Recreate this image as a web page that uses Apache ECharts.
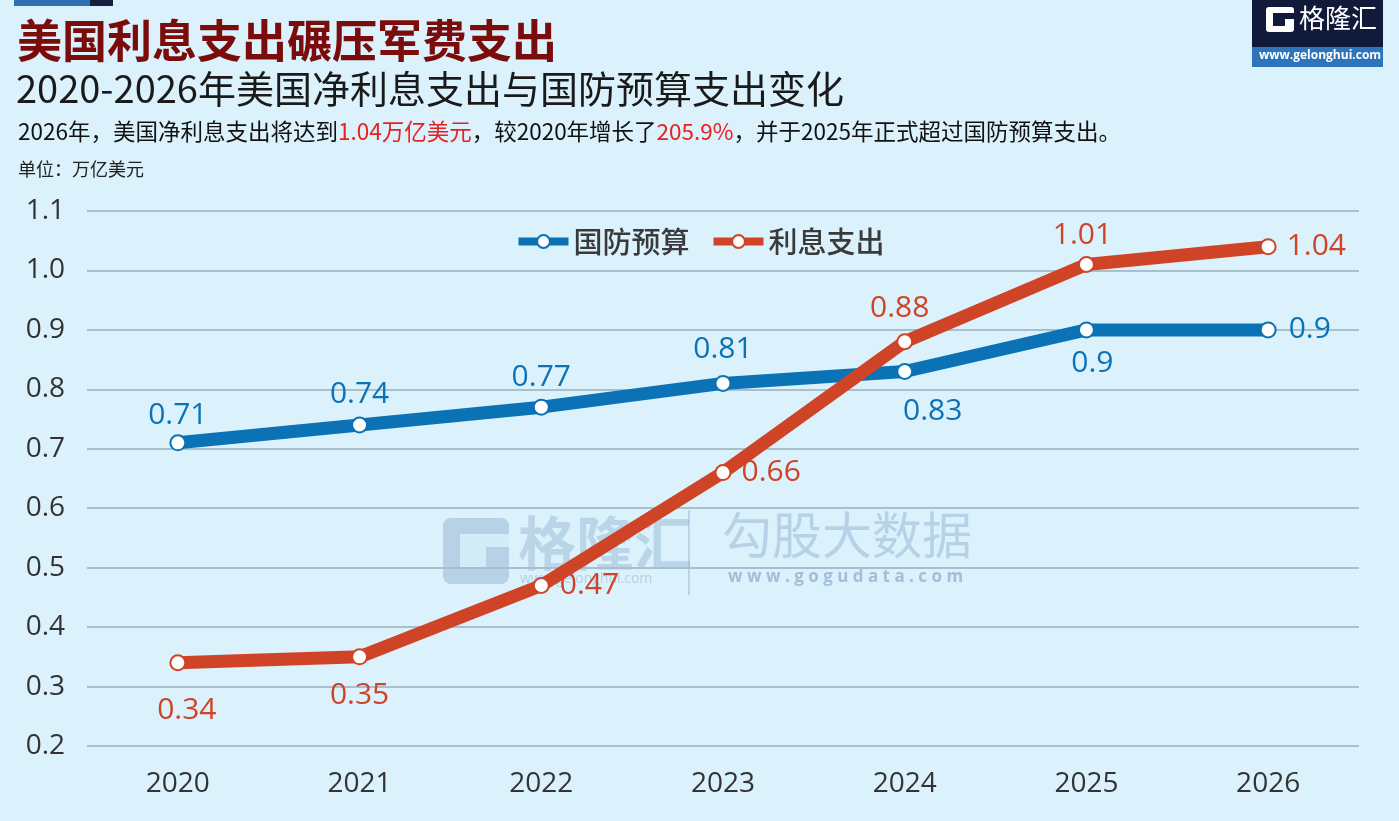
<!DOCTYPE html>
<html>
<head>
<meta charset="utf-8">
<script src="https://cdn.jsdelivr.net/npm/echarts@6/dist/echarts.min.js"></script>
<style>
html, body { margin: 0; padding: 0; background: #dbf1fc; }
#main { width: 1399px; height: 821px; }
</style>
</head>
<body>
<div id="main"></div>
<script>
var years = ['2020', '2021', '2022', '2023', '2024', '2025', '2026'];
var defenseBudget = [0.71, 0.74, 0.77, 0.81, 0.83, 0.9, 0.9];
var interestCost = [0.34, 0.35, 0.47, 0.66, 0.88, 1.01, 1.04];
// label placement per point
var defensePos = ['top', 'top', 'top', 'top', 'bottom', 'bottom', 'right'];
var interestPos = ['bottom', 'bottom', 'right', 'right', 'top', 'top', 'right'];

var blue = '#0b72b5';
var red = '#cf4426';
var cjk = '"Noto Sans CJK SC", "Noto Sans", sans-serif';
var num = '"Open Sans", "Noto Sans", sans-serif';

function withLabels(values, positions, color, offsets) {
	return values.map(function (v, i) {
		return {
			value: v,
			label: {
				show: true,
				position: positions[i],
				distance: 10,
				offset: offsets[i] || [0, 0],
				color: color,
				fontSize: 30,
				fontWeight: 500,
				fontFamily: num
			}
		};
	});
}

var chart = echarts.init(document.getElementById('main'));
chart.setOption({
	backgroundColor: '#dbf1fc',
	animation: false,
	grid: { left: 87, right: 40, top: 211, bottom: 75, containLabel: false },
	legend: {
		top: 222,
		left: 'center',
		itemWidth: 50,
		itemHeight: 16,
		itemGap: 20,
		lineStyle: { width: 8 },
		textStyle: { fontSize: 29, color: '#3a3a3a', fontWeight: 500, fontFamily: cjk },
		data: ['国防预算', '利息支出']
	},
	xAxis: {
		type: 'category',
		data: years,
		boundaryGap: true,
		axisLine: { show: false },
		axisTick: { show: false },
		axisLabel: { fontSize: 28, color: '#333', fontWeight: 500, margin: 24, fontFamily: num }
	},
	yAxis: {
		type: 'value',
		min: 0.2,
		max: 1.1,
		interval: 0.1,
		axisLabel: {
			fontSize: 28, color: '#333', fontWeight: 500, margin: 22, fontFamily: num,
			formatter: function (v) { return v.toFixed(1); }
		},
		splitLine: { lineStyle: { color: '#a9c0cc', width: 2 } }
	},
	series: [{
		name: '国防预算',
		type: 'line',
		data: withLabels(defenseBudget, defensePos, blue, [[0, 6], [0, 3], [0, 4], null, [28, 6], [6, 0], [2, 0]]),
		lineStyle: { color: blue, width: 13 },
		itemStyle: { color: '#fff', borderColor: blue, borderWidth: 2 },
		symbol: 'circle',
		symbolSize: 15,
		z: 2
	}, {
		name: '利息支出',
		type: 'line',
		data: withLabels(interestCost, interestPos, red, [[9, 14], [0, 5], null, null, [-5, 0], [-4, 4], null]),
		lineStyle: { color: red, width: 13 },
		itemStyle: { color: '#fff', borderColor: red, borderWidth: 2 },
		symbol: 'circle',
		symbolSize: 15,
		z: 3
	}],
	graphic: [
		// top strip
		{ type: 'rect', shape: { x: 14, y: 0, width: 76, height: 6 }, style: { fill: '#2e6fb5' } },
		{ type: 'rect', shape: { x: 90, y: 0, width: 23, height: 6 }, style: { fill: '#14213f' } },
		// titles
		{ type: 'text', left: 17, top: 18, style: { text: '美国利息支出碾压军费支出', font: 'bold 45px ' + cjk, fill: '#7a0c0c' } },
		{ type: 'text', left: 16, top: 70, style: { text: '2020-2026年美国净利息支出与国防预算支出变化', font: '38px ' + cjk, fill: '#1a1a1a' } },
		{ type: 'text', left: 18, top: 120, style: {
			text: '{a|2026年，美国净利息支出将达到}{r|1.04万亿美元}{a|，较2020年增长了}{r|205.9%}{a|，并于2025年正式超过国防预算支出。}',
			rich: {
				a: { fontSize: 22.5, fontFamily: cjk, fill: '#111' },
				r: { fontSize: 22.5, fontFamily: cjk, fill: '#e8201e' }
			}
		} },
		{ type: 'text', left: 18, top: 160, style: { text: '单位：万亿美元', font: '18px ' + cjk, fill: '#222' } },
		// logo top right
		{ type: 'rect', shape: { x: 1252, y: 0, width: 131, height: 47 }, style: { fill: '#121a3a' } },
		{ type: 'rect', shape: { x: 1252, y: 47, width: 131, height: 20 }, style: { fill: '#2e74bb' } },
		{ type: 'rect', shape: { x: 1266, y: 7, width: 28, height: 25, r: 3 }, style: { fill: '#fff' } },
		{ type: 'rect', shape: { x: 1273, y: 13, width: 21, height: 6 }, style: { fill: '#121a3a' } },
		{ type: 'rect', shape: { x: 1273, y: 19, width: 12, height: 7 }, style: { fill: '#121a3a' } },
		{ type: 'text', left: 1299, top: 5, style: { text: '格隆汇', font: '26px ' + cjk, fill: '#fff' } },
		{ type: 'text', left: 1259, top: 50, style: { text: 'www.gelonghui.com', font: 'bold 12px ' + num, fill: '#fff' } },
		// watermark
		{ type: 'group', z: 100, children: [
			{ type: 'rect', shape: { x: 443, y: 518, width: 66, height: 66, r: 8 }, style: { fill: 'rgba(110,150,185,0.33)' } },
			{ type: 'rect', shape: { x: 460, y: 534, width: 49, height: 13 }, style: { fill: 'rgba(219,241,252,0.8)' } },
			{ type: 'rect', shape: { x: 460, y: 547, width: 26, height: 20 }, style: { fill: 'rgba(219,241,252,0.8)' } },
			{ type: 'text', left: 518, top: 514, style: { text: '格隆汇', font: 'bold 58px ' + cjk, fill: 'rgba(110,150,185,0.3)' } },
			{ type: 'text', left: 520, top: 572, style: { text: 'www.gelonghui.com', font: '14px ' + num, fill: 'rgba(110,150,185,0.35)' } },
			{ type: 'rect', shape: { x: 688, y: 510, width: 2, height: 85 }, style: { fill: 'rgba(110,150,185,0.3)' } },
			{ type: 'text', left: 722, top: 510, style: { text: '勾股大数据', font: '50px ' + cjk, fill: 'rgba(110,150,185,0.33)' } },
			{ type: 'text', left: 728, top: 569, style: { text: 'w w w . g o g u d a t a . c o m', font: 'bold 17px ' + num, fill: 'rgba(90,130,170,0.45)' } }
		] }
	]
});
</script>
</body>
</html>
